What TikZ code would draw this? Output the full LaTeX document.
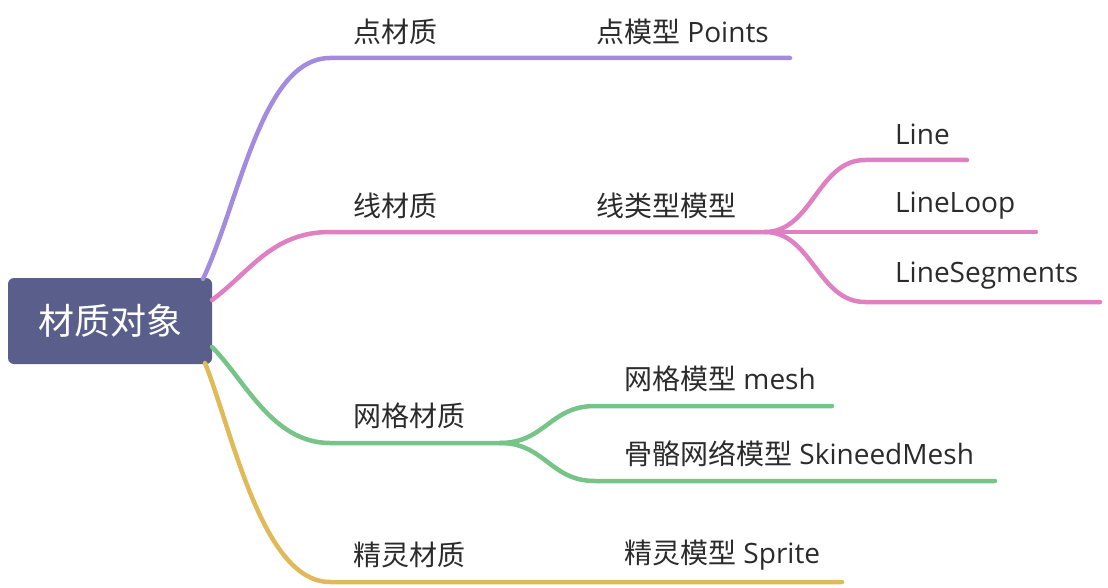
\documentclass[tikz,border=0pt]{standalone}
\usepackage{fontspec}
\setmainfont{Open Sans}
\newfontfamily\cjk{Noto Sans CJK SC}
\definecolor{rootfill}{HTML}{595F8A}
\definecolor{cpurple}{HTML}{A38BDE}
\definecolor{cpink}{HTML}{DE80C2}
\definecolor{cgreen}{HTML}{76C487}
\definecolor{cyellow}{HTML}{E0BA58}
\definecolor{ctext}{HTML}{2B2B2B}
\tikzset{
  rootbox/.style={fill=rootfill, rounded corners=6pt, minimum width=204pt, minimum height=86pt, inner sep=0pt, text=white, font=\cjk\fontsize{36}{40}\selectfont},
  lbl/.style={anchor=west, inner sep=0pt, text=ctext, font=\fontsize{28}{32}\selectfont},
  branch/.style={line width=4.5pt, line cap=round},
}
\begin{document}
\begin{tikzpicture}[x=1pt,y=-1pt]
\useasboundingbox (0,0) rectangle (1108,588);
\node[rootbox] (root) at (110,321) {材质对象};
% anchor coordinates
\coordinate (sP) at (203,279);
\coordinate (sK) at (212,300);
\coordinate (sG) at (212,347);
\coordinate (sY) at (205,363);
\coordinate (hP) at (330,58);
\coordinate (hK) at (330,232);
\coordinate (hG) at (330,443);
\coordinate (hY) at (330,582);
\coordinate (eP) at (790,58);
\coordinate (jK) at (765,232);
\coordinate (jG) at (500,443);
\coordinate (eY) at (842,582);
\coordinate (kA) at (865,160);
\coordinate (eA) at (967,160);
\coordinate (eB) at (1036,232);
\coordinate (kC) at (865,302);
\coordinate (eC) at (1100,302);
\coordinate (gA) at (595,406);
\coordinate (fA) at (832,406);
\coordinate (gB) at (595,481);
\coordinate (fB) at (995,481);
% purple
\draw[branch, cpurple] (sP) .. controls (240,200) and (262,58) .. (hP) -- (eP);
% pink
\draw[branch, cpink] (sK) .. controls (250,272) and (272,232) .. (hK) -- (jK);
\draw[branch, cpink] (jK) -- (eB);
\draw[branch, cpink] (jK) .. controls (812,232) and (818,160) .. (kA) -- (eA);
\draw[branch, cpink] (jK) .. controls (812,232) and (818,302) .. (kC) -- (eC);
% green
\draw[branch, cgreen] (sG) .. controls (245,380) and (272,443) .. (hG) -- (jG);
\draw[branch, cgreen] (jG) .. controls (545,443) and (550,406) .. (gA) -- (fA);
\draw[branch, cgreen] (jG) .. controls (545,443) and (550,481) .. (gB) -- (fB);
% yellow
\draw[branch, cyellow] (sY) .. controls (232,430) and (262,582) .. (hY) -- (eY);
% labels
\node[lbl] (l1) at (353,32) {\cjk 点材质};
\node[lbl] (l11) at (596,32) {{\cjk 点模型} Points};
\node[lbl] (l2) at (353,206) {\cjk 线材质};
\node[lbl] (l21) at (596,206) {\cjk 线类型模型};
\node[lbl] (l211) at (895,134) {Line};
\node[lbl] (l212) at (895,206) {LineLoop};
\node[lbl] (l213) at (895,276) {LineSegments};
\node[lbl] (l3) at (353,416) {\cjk 网格材质};
\node[lbl] (l31) at (624,379) {{\cjk 网格模型} mesh};
\node[lbl] (l32) at (624,454) {{\cjk 骨骼网络模型} SkineedMesh};
\node[lbl] (l4) at (353,555) {\cjk 精灵材质};
\node[lbl] (l41) at (624,555) {{\cjk 精灵模型} Sprite};
\end{tikzpicture}
\end{document}
